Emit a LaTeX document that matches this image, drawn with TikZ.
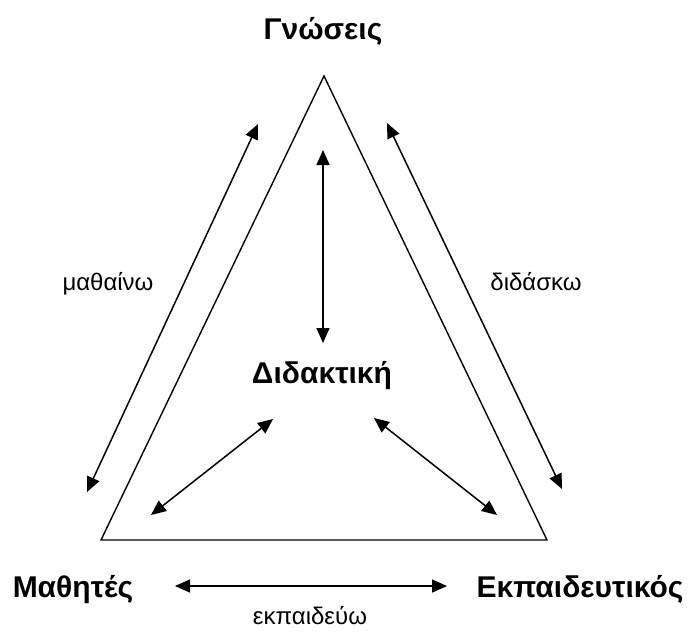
\documentclass[tikz,border=0pt]{standalone}
\usepackage{fontspec}
\setmainfont{Liberation Sans}
\usetikzlibrary{arrows.meta}
\tikzset{
  boldlabel/.style={font=\fontsize{30}{36}\selectfont\bfseries, inner sep=0pt, anchor=base},
  verblabel/.style={font=\fontsize{24}{29}\selectfont, inner sep=0pt, anchor=base},
  edge/.style={line width=1.4pt, line join=miter},
  dbl/.style={line width=1.5pt, {Triangle[length=15pt,width=13pt]}-{Triangle[length=15pt,width=13pt]}}
}
\begin{document}
\begin{tikzpicture}[x=1pt,y=-1pt]
\useasboundingbox (0,0) rectangle (690,634);
% triangle
\coordinate (top) at (324,76);
\coordinate (bl) at (101,540);
\coordinate (br) at (547,540);
\draw[edge] (top) -- (bl) -- (br) -- cycle;
% labels
\node[boldlabel] (gn) at (323,40) {Γνώσεις};
\node[boldlabel] (did) at (322,383) {Διδακτική};
\node[boldlabel] (math) at (73,597) {Μαθητές};
\node[boldlabel] (ekp) at (580,597) {Εκπαιδευτικός};
\node[verblabel] (mv) at (108,290) {μαθαίνω};
\node[verblabel] (dv) at (536,290) {διδάσκω};
\node[verblabel] (ev) at (310,624) {εκπαιδεύω};
% arrow endpoints
\coordinate (lA) at (258,124);
\coordinate (lB) at (87,492);
\coordinate (rA) at (387,123);
\coordinate (rB) at (562,489);
\coordinate (vA) at (323,150);
\coordinate (vB) at (323,343);
\coordinate (llA) at (273,419);
\coordinate (llB) at (151,515);
\coordinate (lrA) at (374,418);
\coordinate (lrB) at (497,515);
\coordinate (bA) at (175,586);
\coordinate (bB) at (447,586);
\draw[dbl] (lA) -- (lB);
\draw[dbl] (rA) -- (rB);
\draw[dbl] (vA) -- (vB);
\draw[dbl] (llA) -- (llB);
\draw[dbl] (lrA) -- (lrB);
\draw[dbl] (bA) -- (bB);
\end{tikzpicture}
\end{document}
